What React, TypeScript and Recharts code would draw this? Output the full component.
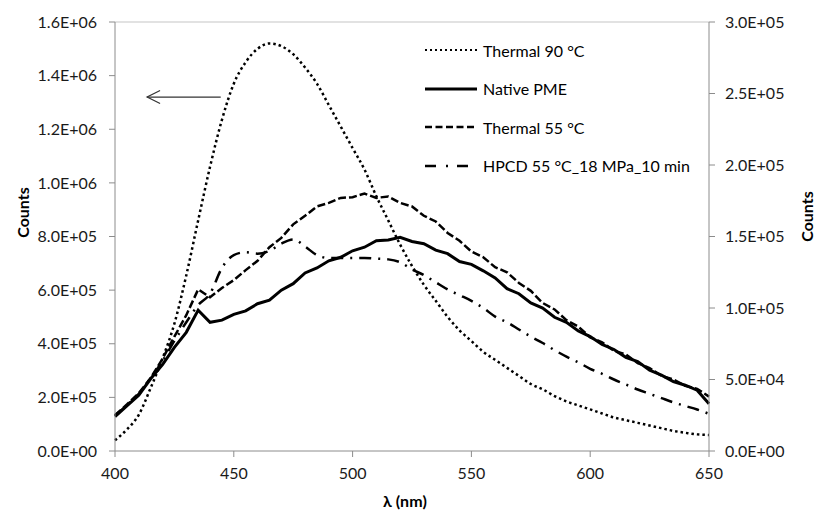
import { LineChart, Line, XAxis, YAxis, ReferenceLine, Legend } from "recharts";

const FONT = "Lato, 'Open Sans', sans-serif";

// emission wavelength, nm
const wavelengths = [
  400, 405, 410, 415, 420, 425, 430, 435, 440, 445, 450, 455, 460, 465, 470, 475, 480,
  485, 490, 495, 500, 505, 510, 515, 520, 525, 530, 535, 540, 545, 550, 555, 560, 565,
  570, 575, 580, 585, 590, 595, 600, 605, 610, 615, 620, 625, 630, 635, 640, 645, 650,
];

// left axis
const thermal90 = [
  40000, 80000, 135000, 235000, 345000, 475000, 655000, 860000, 1060000, 1235000, 1370000,
  1450000, 1500000, 1520000, 1510000, 1480000, 1430000, 1370000, 1290000, 1210000, 1130000,
  1050000, 950000, 860000, 770000, 690000, 620000, 560000, 500000, 450000, 410000, 370000,
  340000, 310000, 280000, 250000, 230000, 205000, 185000, 170000, 155000, 140000, 125000,
  115000, 105000, 95000, 85000, 75000, 68000, 62000, 60000,
];

// right axis
const nativePme = [
  24000, 31500, 39000, 50500, 60500, 72500, 83000, 98500, 90000, 91500, 95500, 98000, 103000,
  105500, 112500, 117000, 124500, 128000, 133000, 135500, 140000, 142500, 147000, 147500,
  149500, 146500, 145000, 140500, 138000, 132500, 130500, 126000, 121000, 113500, 110000,
  103500, 100000, 93500, 90000, 84000, 80000, 74500, 71000, 65500, 62500, 56500, 53000,
  48500, 46000, 42500, 33000,
];

const thermal55 = [
  25000, 32500, 40500, 51000, 64500, 80000, 95000, 113000, 107500, 114000, 119500, 126500,
  133000, 142500, 149000, 158500, 164500, 171000, 173500, 177000, 177500, 180000, 177000,
  178000, 173500, 171000, 164500, 160500, 152500, 147000, 139500, 135500, 128500, 125000,
  117500, 112000, 103500, 99000, 91500, 87000, 79500, 76000, 70000, 67500, 61500, 58000,
  52500, 50000, 45500, 43500, 38000,
];

const hpcd = [
  25000, 32000, 40000, 51000, 63000, 77000, 90000, 102000, 110000, 128000, 137000, 139000,
  138000, 140000, 145000, 148000, 143000, 137000, 135000, 135000, 135000, 135000, 134500,
  134000, 132000, 127000, 123000, 118000, 113000, 109000, 105000, 100000, 94000, 90000,
  85000, 80000, 75500, 70500, 66000, 62000, 57500, 54000, 50000, 46500, 43000, 40000,
  37000, 34000, 31500, 29000, 26000,
];

const xTicks = [400, 450, 500, 550, 600, 650];
const leftTicks = [0, 200000, 400000, 600000, 800000, 1000000, 1200000, 1400000, 1600000];
const rightTicks = [0, 50000, 100000, 150000, 200000, 250000, 300000];

const data = wavelengths.map((wl, i) => ({
  wl,
  thermal90: thermal90[i],
  nativePme: nativePme[i],
  thermal55: thermal55[i],
  hpcd: hpcd[i],
}));

const legendItems = [
  { name: "Thermal 90 °C", dash: "2 3", width: 2, len: 52 },
  { name: "Native PME", dash: undefined, width: 3, len: 52 },
  { name: "Thermal 55 °C", dash: "7 3.5", width: 2.5, len: 52 },
  { name: "HPCD 55 °C_18 MPa_10 min", dash: "11 10 2 9 11", width: 2.5, len: 43 },
];

// Excel style 1.6E+06
function sci(v: number) {
  const [m, e] = v.toExponential(1).split("e");
  return m + "E" + e[0] + e.slice(1).padStart(2, "0");
}

const tickStyle = { fontSize: 16, fill: "#1a1a1a", fontFamily: FONT };
const AXIS = "#8c8c8c";

function LegendBox() {
  return (
    <div style={{ fontFamily: FONT, fontSize: 16, color: "#000" }}>
      {legendItems.map((item) => (
        <div key={item.name} style={{ display: "flex", alignItems: "center", height: 38.5 }}>
          <svg width={58} height={10}>
            <line
              x1={0}
              y1={5}
              x2={item.len}
              y2={5}
              stroke="#000"
              strokeWidth={item.width}
              strokeDasharray={item.dash}
            />
          </svg>
          <span style={{ whiteSpace: "nowrap" }}>{item.name}</span>
        </div>
      ))}
    </div>
  );
}

function arrowShape(p: any) {
  const { x1, y1, x2, y2 } = p;
  return (
    <g>
      <line x1={x1} y1={y1} x2={x2} y2={y2} stroke="#333" strokeWidth={1.2} />
      <polyline
        points={`${x1 + 13},${y1 - 6.5} ${x1},${y1} ${x1 + 13},${y1 + 6.5}`}
        fill="none"
        stroke="#333"
        strokeWidth={1.2}
      />
    </g>
  );
}

const leftTitle = (p: any) => {
  const vb = p.viewBox;
  const x = vb.x + 22;
  const y = vb.y + vb.height / 2 - 24;
  return (
    <text x={x} y={y} transform={`rotate(-90 ${x} ${y})`} textAnchor="middle" dominantBaseline="central"
      style={{ fontFamily: FONT, fontSize: 16, fontWeight: 700 }} fill="#000">
      Counts
    </text>
  );
};

const rightTitle = (p: any) => {
  const vb = p.viewBox;
  const x = vb.x + 97;
  const y = vb.y + vb.height / 2 - 20;
  return (
    <text x={x} y={y} transform={`rotate(-90 ${x} ${y})`} textAnchor="middle" dominantBaseline="central"
      style={{ fontFamily: FONT, fontSize: 16, fontWeight: 700 }} fill="#000">
      Counts
    </text>
  );
};

const bottomTitle = (p: any) => {
  const vb = p.viewBox;
  return (
    <text x={vb.x + vb.width / 2 - 7} y={vb.y + 56} textAnchor="middle"
      style={{ fontFamily: FONT, fontSize: 16, fontWeight: 700 }} fill="#000">
      λ (nm)
    </text>
  );
};

export default function App() {
  return (
    <div style={{ position: "absolute", left: 0, top: 0, background: "#fff" }}>
      <LineChart width={814} height={517} data={data} margin={{ top: 22, right: 0, bottom: 0, left: 0 }}>
        <XAxis
          dataKey="wl"
          type="number"
          domain={[400, 650]}
          ticks={xTicks}
          height={66}
          tick={tickStyle}
          tickSize={6}
          tickMargin={11}
          axisLine={{ stroke: AXIS }}
          tickLine={{ stroke: AXIS }}
          label={bottomTitle}
        />
        <YAxis
          yAxisId="left"
          domain={[0, 1600000]}
          ticks={leftTicks}
          width={115}
          tickFormatter={sci}
          tick={tickStyle}
          tickSize={6}
          tickMargin={12}
          axisLine={{ stroke: AXIS }}
          tickLine={{ stroke: AXIS }}
          label={leftTitle}
        />
        <YAxis
          yAxisId="right"
          orientation="right"
          domain={[0, 300000]}
          ticks={rightTicks}
          width={105}
          tickFormatter={sci}
          tick={tickStyle}
          tickSize={6}
          tickMargin={10}
          axisLine={{ stroke: AXIS }}
          tickLine={{ stroke: AXIS }}
          label={rightTitle}
        />
        <ReferenceLine yAxisId="left" y={1600000} stroke="#d9d9d9" strokeWidth={1.5} />
        <ReferenceLine
          yAxisId="left"
          segment={[{ x: 413.5, y: 1320000 }, { x: 444.5, y: 1320000 }]}
          shape={arrowShape}
        />
        <Line
          yAxisId="left"
          dataKey="thermal90"
          name="Thermal 90 °C"
          type="monotone"
          stroke="#000"
          strokeWidth={2.5}
          strokeDasharray="2.5 3"
          dot={false}
          isAnimationActive={false}
        />
        <Line
          yAxisId="right"
          dataKey="hpcd"
          name="HPCD 55 °C_18 MPa_10 min"
          type="monotone"
          stroke="#000"
          strokeWidth={2.5}
          strokeDasharray="12 7 2 7"
          dot={false}
          isAnimationActive={false}
        />
        <Line
          yAxisId="right"
          dataKey="thermal55"
          name="Thermal 55 °C"
          type="linear"
          stroke="#000"
          strokeWidth={2.5}
          strokeDasharray="8 3"
          dot={false}
          isAnimationActive={false}
        />
        <Line
          yAxisId="right"
          dataKey="nativePme"
          name="Native PME"
          type="linear"
          stroke="#000"
          strokeWidth={3}
          dot={false}
          isAnimationActive={false}
        />
        <Legend
          layout="vertical"
          align="center"
          verticalAlign="middle"
          content={() => <LegendBox />}
          wrapperStyle={{ left: 425, top: 31, width: 320 }}
        />
      </LineChart>
    </div>
  );
}
